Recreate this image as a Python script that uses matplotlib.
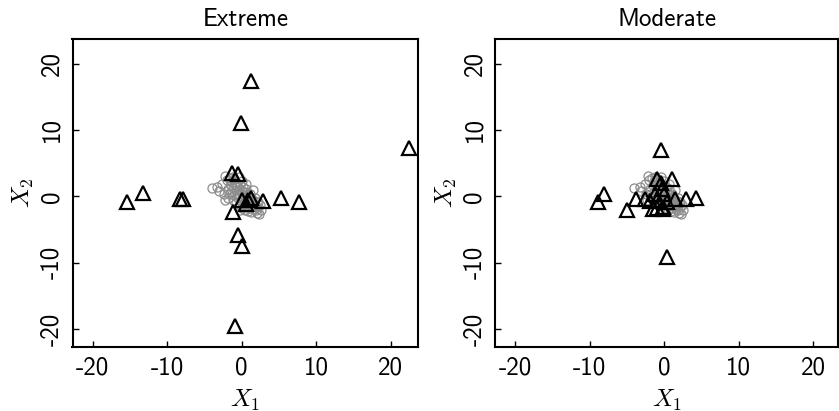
import matplotlib

matplotlib.use("Agg")
import matplotlib.pyplot as plt
from matplotlib import rcParams

rcParams["font.family"] = "cmss10"
rcParams["mathtext.fontset"] = "cm"
rcParams["axes.unicode_minus"] = False
rcParams["axes.formatter.use_mathtext"] = True

# clean observations (shared by both panels)
clean_x = [-4.0, -3.1, -2.2, -2.6, -2.4, -2.0, -1.9, -1.8, -1.6, -1.5, -1.4, -1.3,
           -1.2, -1.1, -1.0, -1.0, -0.9, -0.8, -0.8, -0.7, -0.6, -0.6, -0.5, -0.4,
           -0.4, -0.3, -0.3, -0.2, -0.1, 0.0, 0.0, 0.1, 0.1, 0.2, 0.3, 0.3,
           0.4, 0.5, 0.5, 0.6, 0.7, 0.7, 0.8, 0.9, 0.9, 1.0, 1.1, 1.1,
           1.2, 1.3, 1.3, 1.4, 1.5, 1.5, 1.6, 1.7, 1.8, 1.8, 1.9, 2.0,
           2.0, 2.1, 2.2, 2.3, 2.4, -2.3, -1.7, -0.2, 0.6, -3.3, 2.6, -1.2]
clean_y = [1.3, 0.8, 3.0, 1.9, 0.3, 2.4, 1.1, -0.3, 2.8, 1.7, 0.6, 2.1,
           -0.6, 1.3, 2.6, 0.2, 1.8, -1.0, 0.9, 2.2, 0.4, 1.5, -0.3, 2.9,
           1.0, -1.4, 0.1, 1.7, -0.7, 0.8, 2.3, -1.8, 0.3, 1.4, -0.4, -1.1,
           0.6, -2.0, -0.1, 1.1, -0.8, -1.5, 0.2, -2.2, -0.5, -1.2, 0.4, -1.8,
           -0.9, -0.2, -2.4, -1.4, 1.0, -0.6, -1.9, -1.1, -1.4, -0.3, -2.1, -0.8,
           -2.5, -1.6, -0.9, -2.6, -1.3, -0.5, 0.3, -2.1, 1.9, 1.4, -2.0, 2.9]

# contaminated observations
extreme_x = [22.5, 1.2, -0.1, -15.4, -13.3, -8.3, -7.9, 5.3, 7.7, -0.55,
             0.0, -0.9, -1.3, -0.45, 0.0, 1.2, 0.6, 2.8, -1.2, 0.9]
extreme_y = [7.3, 17.4, 11.0, -0.9, 0.5, -0.4, -0.4, -0.2, -0.8, -5.8,
             -7.5, -19.5, 3.5, 3.3, -0.5, -0.2, -1.1, -0.7, -2.3, -0.6]

moderate_x = [-0.45, 0.45, -8.9, -8.1, -5.0, -3.8, -2.6, -1.9, -1.0, 1.0,
              -0.35, -1.25, -1.5, -1.0, -0.13, 1.5, 3.0, 4.35, -0.4, 0.4,
              -0.9, -0.2, 0.0]
moderate_y = [7.0, -9.1, -0.9, 0.4, -2.1, -0.4, -0.4, -0.7, 2.6, 2.6,
              1.1, 0.3, -1.9, -1.7, -1.6, -0.4, -0.45, -0.2, 2.0, -0.8,
              -0.6, -1.9, 0.3]

panels = [("Extreme", extreme_x, extreme_y), ("Moderate", moderate_x, moderate_y)]
ticks = [-20, -10, 0, 10, 20]
tick_labels = ["-20", "-10", "0", "10", "20"]

fig = plt.figure(figsize=(8.39, 4.11), dpi=100)
boxes = [[72.5 / 839, 64 / 411, 345.8 / 839, 308 / 411],
         [495 / 839, 64 / 411, 343.3 / 839, 308 / 411]]
xlims = [(-22.72, 23.72), (-22.72, 23.4)]

for box, xlim, (title, tx, ty) in zip(boxes, xlims, panels):
    ax = fig.add_axes(box)
    ax.plot(clean_x, clean_y, "o", ms=6.5, mfc="none", mec="#8c8c8c", mew=0.9)
    ax.plot(tx, ty, "^", ms=9.5, mfc="none", mec="black", mew=1.6)
    ax.set_xlim(*xlim)
    ax.set_ylim(-22.72, 23.72)
    ax.set_xticks(ticks, tick_labels)
    ax.set_yticks(ticks, tick_labels)
    ax.tick_params(direction="in", length=4.5, width=1, pad=6.5, labelsize=18)
    for lab in ax.get_yticklabels():
        lab.set_rotation(90)
        lab.set_va("center")
    for side in ax.spines.values():
        side.set_linewidth(1.5)
    ax.set_title(title, fontsize=18, pad=9)
    ax.set_xlabel(r"$X_1$", fontsize=18, labelpad=6)
    ax.set_ylabel(r"$X_2$", fontsize=18, labelpad=3)

fig.savefig("out.png", dpi=100)
